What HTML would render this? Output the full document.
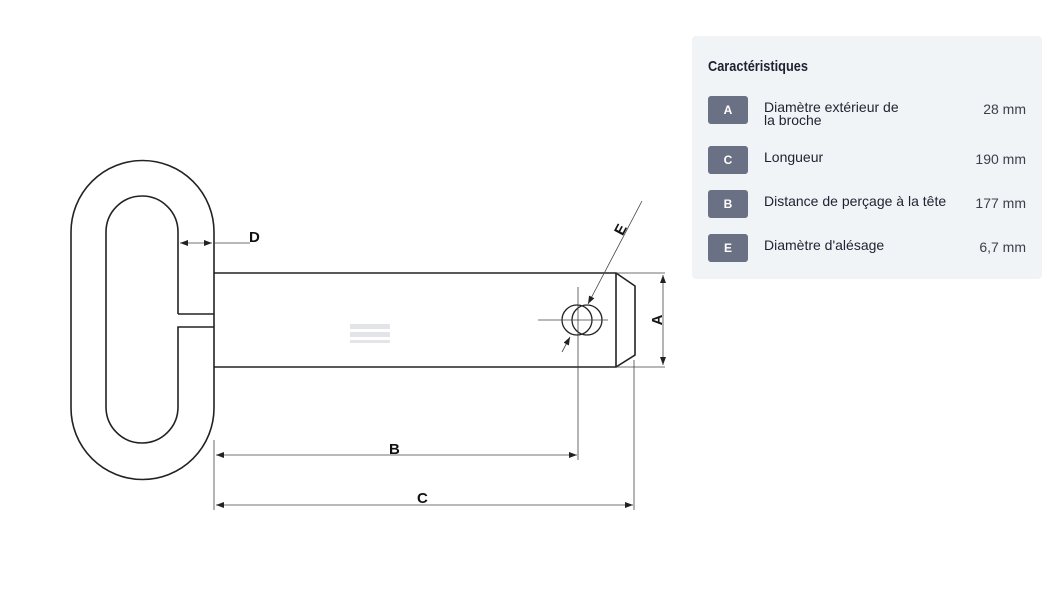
<!DOCTYPE html>
<html><head><meta charset="utf-8"><style>
body{margin:0;width:1049px;height:590px;background:#fff;position:relative;font-family:"Liberation Sans",sans-serif;overflow:hidden}
.panel{position:absolute;left:692px;top:36px;width:350px;height:243px;background:#f1f4f6;border-radius:4px}
.t{position:absolute;left:16px;top:22px;font-size:15px;font-weight:bold;color:#1e2230;transform:scaleX(.85);transform-origin:left}
.row{position:absolute;left:16px;width:318px;height:28px}
.b{position:absolute;left:0;top:0;width:40px;height:28px;background:#6b7185;border-radius:3px;color:#fff;font-weight:bold;font-size:12px;text-align:center;line-height:28px}
.l{position:absolute;left:56px;top:5px;font-size:14px;color:#1e2230;line-height:13px}
.v{position:absolute;right:0;top:5px;font-size:14px;color:#3a3f4c}
</style></head><body>
<svg width="1049" height="590" style="position:absolute;left:0;top:0" fill="none" stroke="#222">
<defs><marker id="ar" markerWidth="8" markerHeight="6" refX="8" refY="3" orient="auto-start-reverse" markerUnits="userSpaceOnUse"><path d="M0,0 L8,3 L0,6z" fill="#222" stroke="none"/></marker></defs>
<g stroke-width="1.6">
<path d="M214,232 L214,408 A71.5,71.5 0 0 1 71,408 L71,232 A71.5,71.5 0 0 1 214,232"/>
<path d="M178,314 L178,232 A36,36 0 0 0 106,232 L106,407 A36,36 0 0 0 178,407 L178,327 L214,327 M178,314 L214,314"/>
<path d="M214,273 L616,273 L616,367 L214,367 M616,273 L635,286 L635,355 L616,367"/>
<circle cx="577" cy="320" r="15" stroke-width="1.3"/>
<circle cx="587" cy="320" r="15" stroke-width="1.3"/>
</g>
<g stroke-width="0.8" stroke="#444">
<path d="M538,320 L608,320 M578,287 L578,460 M634,360 L634,510 M214,440 L214,510 M616,273 L665,273 M616,367 L665,367 M214,243 L250,243"/>
<line x1="180" y1="243" x2="212" y2="243" marker-start="url(#ar)" marker-end="url(#ar)"/>
<line x1="663" y1="275" x2="663" y2="365" marker-start="url(#ar)" marker-end="url(#ar)"/>
<line x1="216" y1="455" x2="577" y2="455" marker-start="url(#ar)" marker-end="url(#ar)"/>
<line x1="216" y1="505" x2="633" y2="505" marker-start="url(#ar)" marker-end="url(#ar)"/>
<line x1="642" y1="201" x2="588" y2="304" marker-end="url(#ar)"/>
<line x1="562" y1="352" x2="570" y2="337" marker-end="url(#ar)"/>
</g>
<g fill="#111" stroke="none" font-family="Liberation Sans" font-weight="bold" font-size="15">
<text x="249" y="242">D</text>
<text x="389" y="454">B</text>
<text x="417" y="503">C</text>
<text transform="translate(662,320) rotate(-90)" text-anchor="middle">A</text>
<text transform="translate(625,232) rotate(-62)" text-anchor="middle">E</text>
</g>
<g fill="#e2e4e8" stroke="none"><rect x="350" y="324" width="40" height="5"/><rect x="350" y="332" width="40" height="5"/><rect x="350" y="340" width="40" height="3"/></g>
</svg>
<div class="panel">
<div class="t">Caractéristiques</div>
<div class="row" style="top:60px"><div class="b">A</div><div class="l">Diamètre extérieur de<br>la broche</div><div class="v">28 mm</div></div>
<div class="row" style="top:110px"><div class="b">C</div><div class="l">Longueur</div><div class="v">190 mm</div></div>
<div class="row" style="top:154px"><div class="b">B</div><div class="l">Distance de perçage à la tête</div><div class="v">177 mm</div></div>
<div class="row" style="top:198px"><div class="b">E</div><div class="l">Diamètre d'alésage</div><div class="v">6,7 mm</div></div>
</div>
</body></html>
